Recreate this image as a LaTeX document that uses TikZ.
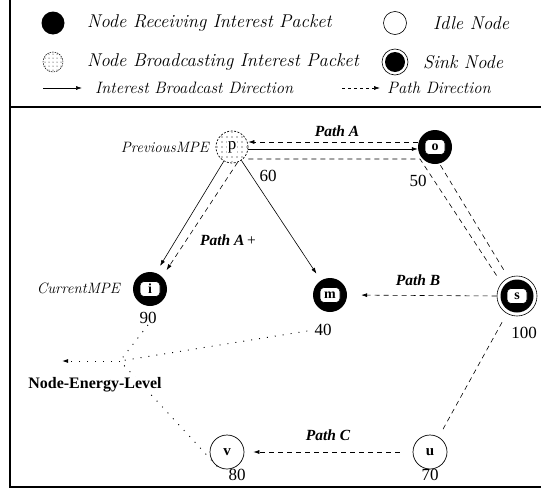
\documentclass[tikz,border=0pt]{standalone}
\usepackage{fontspec}
\newfontfamily\tms{Liberation Serif}
\usetikzlibrary{arrows.meta}
\newcommand\nf{\tms\bfseries\fontsize{15}{15}\selectfont}
\newcommand\boxfont{\tms\bfseries\fontsize{14}{14}\selectfont}
\begin{document}
\begin{tikzpicture}[x=1pt,y=-1pt,
  recv/.style={circle, fill=black, minimum size=34pt, inner sep=0pt},
  inbox/.style={rectangle, rounded corners=4pt, fill=white, draw=black, line width=0.6pt, minimum width=20pt, minimum height=15pt, inner sep=0pt, font=\boxfont},
  idle/.style={circle, draw, line width=0.7pt, minimum size=34pt, inner sep=0pt, font=\nf},
  sinkout/.style={circle, draw, line width=0.6pt, fill=white, minimum size=40pt, inner sep=0pt},
  bcast/.style={circle, draw, dash pattern=on 2pt off 1.5pt, line width=0.7pt, minimum size=32pt, inner sep=0pt},
  dsh/.style={dash pattern=on 5pt off 4pt, line width=0.6pt},
  dotl/.style={dash pattern=on 1pt off 7pt, line width=0.9pt},
  arr/.style={-{Latex[length=6pt,width=4pt]}},
  num/.style={font=\tms\fontsize{17}{17}\selectfont, inner sep=1pt},
  pathlab/.style={font=\tms\fontsize{15.5}{15.5}\selectfont\bfseries\itshape, inner sep=1pt},
  leg/.style={font=\fontsize{18.5}{20}\selectfont\itshape, anchor=west, inner sep=0pt},
  legs/.style={font=\fontsize{16.5}{18}\selectfont\itshape, anchor=west, inner sep=0pt},
  side/.style={font=\fontsize{15}{15}\selectfont\itshape, inner sep=1pt}
]
\useasboundingbox (0,0) rectangle (541,490);
% frame
\draw[line width=2.2pt] (10,0) -- (10,487) -- (541,487);
\draw[line width=1.5pt] (10,107) -- (541,107);

% ---------- legend ----------
\node[circle, fill=black, minimum size=23pt, inner sep=0pt] (lg1) at (53,23) {};
\node[leg] (lt1) at (87,23) {Node Receiving Interest Packet};
\node[circle, draw, line width=0.6pt, minimum size=23pt, inner sep=0pt] (lg2) at (395,23) {};
\node[leg] (lt2) at (433,23) {Idle Node};
\node[circle, draw, dash pattern=on 1.5pt off 1pt, line width=0.5pt, minimum size=20pt, inner sep=0pt] (lg3) at (53,62) {};
\begin{scope}
  \clip (lg3) circle (9.5);
  \foreach \a in {-8,-4,...,8} \foreach \b in {-8,-4,...,8} \fill (53+\a,62+\b) circle (0.5);
\end{scope}
\node[leg] (lt3) at (87,62) {Node Broadcasting Interest Packet};
\node[circle, draw, line width=0.6pt, minimum size=26pt, inner sep=0pt] (lg4) at (395,62) {};
\node[circle, fill=black, minimum size=20pt, inner sep=0pt] (lg4b) at (395,62) {};
\node[leg] (lt4) at (423,62) {Sink Node};
\coordinate (la1) at (43,88); \coordinate (la2) at (82,88);
\draw[arr, line width=0.6pt] (la1) -- (la2);
\node[legs] (lt5) at (95,88) {Interest Broadcast Direction};
\coordinate (la3) at (342,88); \coordinate (la4) at (380,88);
\draw[arr, dash pattern=on 3pt off 3pt, line width=0.6pt] (la3) -- (la4);
\node[legs] (lt6) at (387,88) {Path Direction};

% ---------- nodes ----------
\node[bcast] (p) at (232,147) {};
\begin{scope}
  \clip (p) circle (15);
  \foreach \a in {-15,-10,...,15} \foreach \b in {-15,-10,...,15} \fill (232+\a,147+\b) circle (0.6);
\end{scope}
\node[fill=white, inner sep=1pt, font=\tms\fontsize{17}{17}\selectfont] (ptxt) at (p) {p};

\node[recv, label={[inbox, name=otxt]center:o}] (o) at (435,147) {};
\node[recv, label={[inbox, name=itxt]center:i}] (i) at (150,289) {};
\node[recv, label={[inbox, name=mtxt]center:m}] (m) at (330,295) {};
\node[sinkout] (s) at (517,296) {};
\node[recv, minimum size=33pt, label={[inbox, name=stxt]center:s}] (sin) at (s) {};
\node[idle] (u) at (430,452) {u};
\node[idle] (v) at (227,452) {v};

% ---------- labels ----------
\node[side, anchor=east] (prev) at (210,147) {PreviousMPE};
\node[side, anchor=east] (curr) at (121,288) {CurrentMPE};
\node[num] (l60) at (268,176) {60};
\node[num] (l50) at (418,181) {50};
\node[num] (l90) at (148,318) {90};
\node[num] (l40) at (323,330) {40};
\node[num] (l100) at (524,333) {100};
\node[num] (l70) at (430,475) {70};
\node[num] (l80) at (237,475) {80};
\node[pathlab] (pa) at (337,131) {Path A};
\node[pathlab] (pap) at (228,240) {Path A\,{\upshape\mdseries +}};
\node[pathlab] (pb) at (418,280) {Path B};
\node[pathlab] (pc) at (328,435) {Path C};

% ---------- connectors ----------
\draw[dsh, arr] ([yshift=5pt]o.west) -- ([yshift=5pt]p.east);
\draw[arr, line width=0.6pt] ([yshift=-2pt]p.east) -- ([yshift=-2pt]o.west);
\coordinate (bendA) at (420,159);
\draw[dsh, shorten >=8pt] ([yshift=-12pt]p.east) -- (bendA) -- (s.140);
\draw[dsh, shorten <=2pt, shorten >=6pt] (o.-75) -- (s.115);
\draw[arr, line width=0.6pt, shorten >=8pt] (p.240) -- (i.70);
\draw[dsh, arr, shorten >=8pt] (p.290) -- (i.45);
\draw[arr, line width=0.6pt, shorten >=8pt] (p.305) -- (m.122);
\draw[dsh, arr, shorten >=14pt] (s.west) -- (m.east);
\draw[dsh, shorten <=10pt, shorten >=6pt] (s.240) -- (u.60);
\draw[dsh, arr, shorten <=13pt, shorten >=9pt] (u.west) -- (v.east);

% energy level
\coordinate (conv) at (120,361);
\coordinate (etip) at (62,361);
\draw[dotl] (l90.south) -- (conv);
\draw[dotl, shorten <=6pt] (l40.west) -- (conv);
\draw[dotl] (v.235) -- (conv);
\draw[dotl, arr] (conv) -- (etip);
\node[fill=white, inner sep=1pt, font=\tms\fontsize{16}{16}\selectfont\bfseries] (nel) at (95,385) {Node-Energy-Level};
\end{tikzpicture}
\end{document}
